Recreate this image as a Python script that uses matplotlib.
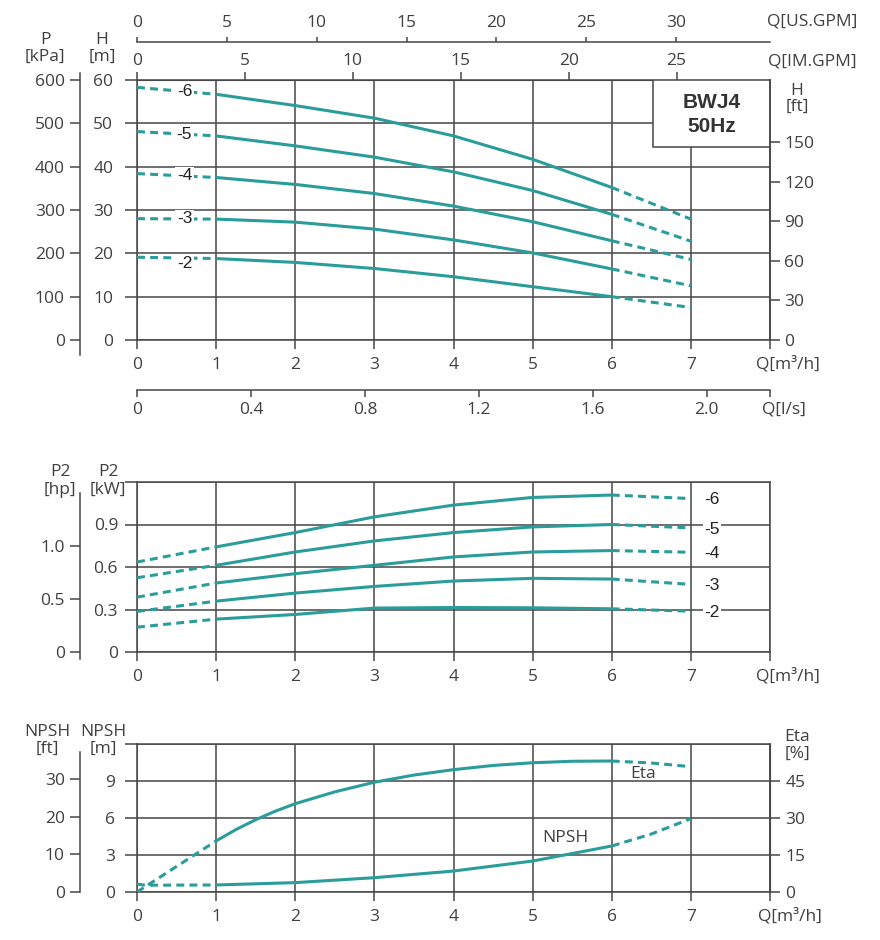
import numpy as np
import matplotlib
matplotlib.use("Agg")
import matplotlib.pyplot as plt
from matplotlib.patches import Rectangle

# ---------------- data ----------------
Q = [0, 1, 2, 3, 4, 5, 6, 7]                       # m3/h
stage_labels = ["-6", "-5", "-4", "-3", "-2"]

H_6 = [58.3, 56.7, 54.1, 51.2, 47.1, 41.7, 35.2, 27.9]   # head [m]
H_5 = [48.1, 47.1, 44.8, 42.2, 38.8, 34.5, 29.0, 22.8]
H_4 = [38.4, 37.5, 35.9, 33.8, 30.9, 27.3, 22.9, 18.6]
H_3 = [28.0, 27.9, 27.2, 25.6, 23.1, 20.1, 16.4, 12.5]
H_2 = [19.1, 18.8, 17.9, 16.5, 14.6, 12.3, 10.0, 7.5]

P2_6 = [0.635, 0.742, 0.843, 0.954, 1.037, 1.091, 1.108, 1.083]  # P2 [kW]
P2_5 = [0.524, 0.612, 0.706, 0.784, 0.843, 0.883, 0.900, 0.876]
P2_4 = [0.387, 0.487, 0.553, 0.612, 0.671, 0.706, 0.716, 0.704]
P2_3 = [0.286, 0.359, 0.416, 0.463, 0.501, 0.520, 0.515, 0.477]
P2_2 = [0.175, 0.232, 0.265, 0.310, 0.314, 0.312, 0.305, 0.288]

Q_eta = [0, 1, 1.25, 1.5, 1.75, 2, 2.5, 3, 3.5, 4, 4.5, 5, 5.5, 6, 6.5, 7]
ETA = [0, 20.7, 25.3, 29.3, 32.8, 35.8, 40.6, 44.5, 47.4, 49.6, 51.3, 52.4, 53.0, 53.1, 52.3, 50.8]   # [%]

Q_npsh = [0, 0.1, 1, 2, 3, 4, 5, 6, 6.5, 7]
NPSH = [0.65, 0.55, 0.57, 0.76, 1.16, 1.70, 2.51, 3.73, 4.7, 5.95]   # [m]

q_ticks = [0, 1, 2, 3, 4, 5, 6, 7, 8]
q_ticklabels = ["0", "1", "2", "3", "4", "5", "6", "7", ""]
h_ticks = [0, 10, 20, 30, 40, 50, 60]
kpa_ticks = [0, 100, 200, 300, 400, 500, 600]
hft_ticks = [0, 30, 60, 90, 120, 150]
kw_ticks = [0, 0.3, 0.6, 0.9, 1.2]
kw_ticklabels = ["0", "0.3", "0.6", "0.9", ""]
hp_ticks = [0, 0.5, 1.0]
hp_ticklabels = ["0", "0.5", "1.0"]
npsh_ticks = [0, 3, 6, 9, 12]
npsh_ticklabels = ["0", "3", "6", "9", ""]
npsh_ft_ticks = [0, 10, 20, 30]
eta_ticks = [0, 15, 30, 45]
usgpm_ticks = [0, 5, 10, 15, 20, 25, 30]
imgpm_ticks = [0, 5, 10, 15, 20, 25]
ls_ticks = [0, 0.4, 0.8, 1.2, 1.6, 2.0]
ls_ticklabels = ["0", "0.4", "0.8", "1.2", "1.6", "2.0"]

# unit conversions
M3H_TO_US = 4.4029
M3H_TO_IM = 3.6662
M3H_TO_LS = 1 / 3.6
M_TO_FT = 1 / 0.3048
KW_TO_HP = 1 / 0.7457
M_TO_KPA = 10.0

# ---------------- style ----------------
plt.rcParams["font.family"] = ["Open Sans", "DejaVu Sans"]
TEAL = "#2a9d9b"
GRID = "#474747"
TXT = "#404040"
FS = 12.5
LW = 2.2
DASH = (0, (2.6, 1.7))
LAB_FONT = ["Liberation Sans", "DejaVu Sans"]

W, HH = 880, 940
fig = plt.figure(figsize=(W / 100, HH / 100), dpi=100)
fig.patch.set_facecolor("white")


def fbox(l, t, r, b):
    return [l / W, 1 - b / HH, (r - l) / W, (b - t) / HH]


def ftext(x, y, s, **kw):
    kw.setdefault("ha", "center")
    kw.setdefault("va", "center")
    kw.setdefault("fontsize", FS)
    kw.setdefault("color", TXT)
    fig.text(x / W, 1 - y / HH, s, **kw)


def style_main(ax, ylim, yticks, yticklabels, ypad):
    ax.set_xlim(0, 8)
    ax.set_ylim(*ylim)
    ax.set_xticks(q_ticks)
    ax.set_xticklabels(q_ticklabels)
    ax.set_yticks(yticks)
    ax.set_yticklabels(yticklabels)
    ax.grid(True, color=GRID, lw=1.1)
    ax.set_axisbelow(True)
    ax.tick_params(axis="x", direction="out", length=6.5, width=1.1, color=GRID,
                   pad=6, labelsize=FS, labelcolor=TXT)
    ax.tick_params(axis="y", direction="out", length=8.6, width=1.1, color=GRID,
                   pad=ypad, labelsize=FS, labelcolor=TXT)
    for s in ax.spines.values():
        s.set_color(GRID)
        s.set_linewidth(1.1)


def outer_axis(box_px, ylim, x_px, top_px, bot_px, factor, ticks, labels):
    t0, b0 = box_px
    per = (ylim[1] - ylim[0]) / (b0 - t0)
    vtop = ylim[0] + (b0 - top_px) * per
    vbot = ylim[0] + (b0 - bot_px) * per
    a = fig.add_axes(fbox(x_px, top_px, x_px + 1, bot_px))
    a.set_ylim(vbot * factor, vtop * factor)
    a.patch.set_visible(False)
    for k in ("top", "right", "bottom"):
        a.spines[k].set_visible(False)
    a.spines["left"].set_color(GRID)
    a.spines["left"].set_linewidth(1.1)
    a.set_xticks([])
    a.set_yticks(ticks)
    a.set_yticklabels(labels)
    a.tick_params(axis="y", direction="out", length=7.5, width=1.1, color=GRID,
                  pad=3.5, labelsize=FS, labelcolor=TXT)
    return a


def draw_curve(ax, q, v):
    q = np.asarray(q, float)
    v = np.asarray(v, float)
    m1 = q <= 1
    m2 = (q >= 1) & (q <= 6)
    m3 = q >= 6
    ax.plot(q[m1], v[m1], color=TEAL, lw=LW, ls=DASH, zorder=3)
    ax.plot(q[m2], v[m2], color=TEAL, lw=LW, ls="-", zorder=3,
            solid_capstyle="butt", solid_joinstyle="round")
    ax.plot(q[m3], v[m3], color=TEAL, lw=LW, ls=DASH, zorder=3)


# ---------------- panel 1 : head ----------------
TOP1, BOT1 = 80, 340
ax1 = fig.add_axes(fbox(137, TOP1, 770, BOT1))
style_main(ax1, (0, 60), h_ticks, [str(v) for v in h_ticks], 8.5)

H_curves = [H_6, H_5, H_4, H_3, H_2]
for lab, h in zip(stage_labels, H_curves):
    draw_curve(ax1, Q, h)
    yl = np.interp(0.6, Q, h)
    if lab == "-2":
        yl -= 1.2
    ax1.text(0.6, yl, lab, ha="center", va="center", fontsize=12.5,
             family=LAB_FONT, color="#222222", zorder=4,
             bbox=dict(fc="white", ec="none", pad=1.0))

# model box
ax1.add_patch(Rectangle((6.52, 44.5), 1.48, 15.5, fc="white", ec=GRID, lw=1.1, zorder=5))
ax1.text(7.26, 54.8, "BWJ4", ha="center", va="center", fontsize=15, fontweight="bold",
         family=LAB_FONT, color="#333333", zorder=6)
ax1.text(7.26, 49.2, "50Hz", ha="center", va="center", fontsize=15, fontweight="bold",
         family=LAB_FONT, color="#333333", zorder=6)

# right axis H [ft]
ax1r = ax1.twinx()
ax1r.set_ylim(0, 60 * M_TO_FT)
ax1r.set_yticks(hft_ticks)
ax1r.tick_params(axis="y", direction="out", length=7.2, width=1.1, color=GRID,
                 pad=3, labelsize=FS, labelcolor=TXT)
for k in ("top", "left", "bottom"):
    ax1r.spines[k].set_visible(False)
ax1r.spines["right"].set_color(GRID)
ax1r.spines["right"].set_linewidth(1.1)

# top axes: IM GPM and US GPM
sec_im = ax1.secondary_xaxis("top", functions=(lambda q: q * M3H_TO_IM, lambda g: g / M3H_TO_IM))
sec_im.set_xticks(imgpm_ticks)
sec_im.tick_params(direction="out", length=5.5, width=1.1, color=GRID, pad=2.5,
                   labelsize=FS, labelcolor=TXT)
sec_im.spines["top"].set_color(GRID)

sec_us = ax1.secondary_xaxis((BOT1 - 42) / (BOT1 - TOP1),
                             functions=(lambda q: q * M3H_TO_US, lambda g: g / M3H_TO_US))
sec_us.set_xticks(usgpm_ticks)
sec_us.tick_params(direction="out", length=3.8, width=1.1, color=GRID, pad=4,
                   labelsize=FS, labelcolor=TXT)
sec_us.spines["top"].set_color(GRID)
sec_us.spines["top"].set_linewidth(1.1)

# bottom axis l/s
sec_ls = ax1.secondary_xaxis((BOT1 - 390) / (BOT1 - TOP1),
                             functions=(lambda q: q * M3H_TO_LS, lambda l: l / M3H_TO_LS))
sec_ls.set_xticks(ls_ticks + [8 * M3H_TO_LS])
sec_ls.set_xticklabels(ls_ticklabels + [""])
sec_ls.tick_params(direction="out", length=5, width=1.1, color=GRID, pad=4,
                   labelsize=FS, labelcolor=TXT)
sec_ls.spines["bottom"].set_color(GRID)
sec_ls.spines["bottom"].set_linewidth(1.1)

# left outer axis kPa
outer_axis((TOP1, BOT1), (0, 60), 80, 73, 355, M_TO_KPA, kpa_ticks, [str(v) for v in kpa_ticks])

ftext(45, 40, "P")
ftext(45, 57, "[kPa]")
ftext(102, 40, "H")
ftext(102, 57, "[m]")
ftext(797, 91, "H")
ftext(797, 107, "[ft]")
ftext(812, 22, "Q[US.GPM]")
ftext(812, 62, "Q[IM.GPM]")
ftext(788, 364, "Q[m\u00b3/h]")
ftext(784, 410, "Q[l/s]")

# ---------------- panel 2 : power ----------------
TOP2, BOT2 = 482, 652
ax2 = fig.add_axes(fbox(137, TOP2, 770, BOT2))
style_main(ax2, (0, 1.2), kw_ticks, kw_ticklabels, 5)
P2_curves = [P2_6, P2_5, P2_4, P2_3, P2_2]
for lab, p in zip(stage_labels, P2_curves):
    draw_curve(ax2, Q, p)
    ax2.text(7.27, p[-1] - 0.01, lab, ha="center", va="center", fontsize=12.5,
             family=LAB_FONT, color="#222222", zorder=4,
             bbox=dict(fc="white", ec="none", pad=1.0))

outer_axis((TOP2, BOT2), (0, 1.2), 80, 493, 659, KW_TO_HP, hp_ticks, hp_ticklabels)
ftext(60, 472, "P2")
ftext(60, 490, "[hp]")
ftext(108, 472, "P2")
ftext(108, 490, "[kW]")
ftext(788, 676, "Q[m\u00b3/h]")

# ---------------- panel 3 : NPSH / Eta ----------------
TOP3, BOT3 = 744, 892
ax3 = fig.add_axes(fbox(137, TOP3, 770, BOT3))
style_main(ax3, (0, 12), npsh_ticks, npsh_ticklabels, 7)
draw_curve(ax3, Q_npsh, NPSH)
ax3.text(5.41, 4.38, "NPSH", ha="center", va="center", fontsize=FS, color=TXT, zorder=4)

ax3r = ax3.twinx()
ax3r.set_ylim(0, 60)
ax3r.set_yticks(eta_ticks)
ax3r.tick_params(axis="y", direction="out", length=7.2, width=1.1, color=GRID,
                 pad=4, labelsize=FS, labelcolor=TXT)
for k in ("top", "left", "bottom"):
    ax3r.spines[k].set_visible(False)
ax3r.spines["right"].set_color(GRID)
draw_curve(ax3r, Q_eta, ETA)
ax3r.text(6.4, 48.0, "Eta", ha="center", va="center", fontsize=FS, color=TXT, zorder=4)

outer_axis((TOP3, BOT3), (0, 12), 80, 752, 892, M_TO_FT, npsh_ft_ticks,
           [str(v) for v in npsh_ft_ticks])
ftext(47, 732, "NPSH")
ftext(47, 749, "[ft]")
ftext(103, 732, "NPSH")
ftext(103, 749, "[m]")
ftext(797, 737, "Eta")
ftext(797, 754, "[%]")
ftext(790, 916, "Q[m\u00b3/h]")

fig.savefig("out.png", dpi=100, facecolor="white")
